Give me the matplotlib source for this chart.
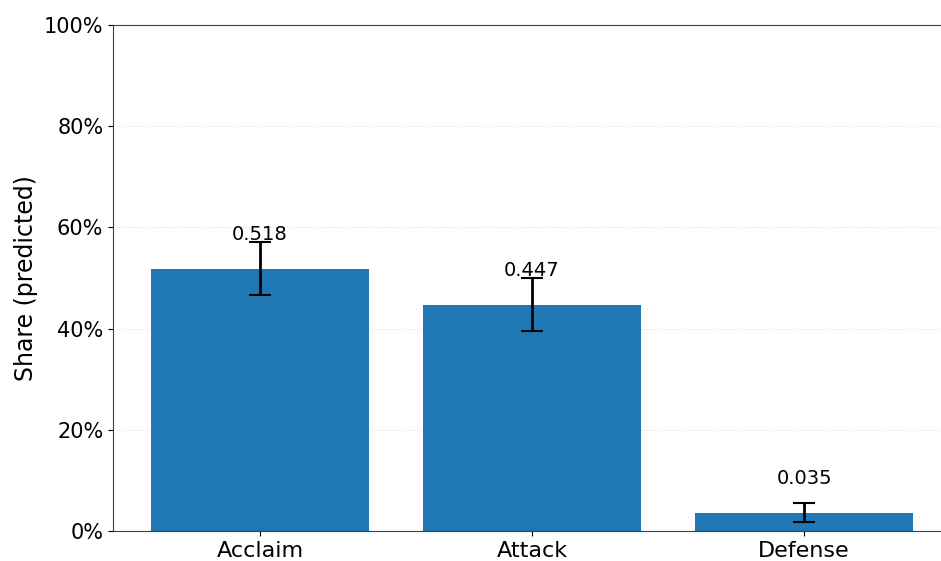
import numpy as np
import matplotlib.pyplot as plt
from matplotlib.ticker import PercentFormatter

categories = ["Acclaim", "Attack", "Defense"]
shares = [0.518, 0.447, 0.035]
ci_low = [0.466, 0.395, 0.018]
ci_high = [0.571, 0.500, 0.055]


def main():
    fig = plt.figure(figsize=(9.41, 5.61), dpi=100)
    ax = fig.add_axes([113 / 941, 30 / 561, 838 / 941, 506 / 561])

    x = np.arange(len(categories))
    y = np.asarray(shares)
    yerr = np.vstack([y - np.asarray(ci_low), np.asarray(ci_high) - y])

    ax.bar(x, y, width=0.8, color="#1f77b4", zorder=2)
    ax.errorbar(x, y, yerr=yerr, fmt="none", ecolor="black",
                elinewidth=2, capsize=8, capthick=1.5, zorder=3)
    for xi, v in zip(x, y):
        ax.text(xi, v + 0.05, f"{v:.3f}", ha="center", va="bottom",
                fontsize=14, zorder=4)

    ax.set_ylim(0, 1)
    ax.yaxis.set_major_formatter(PercentFormatter(1.0, decimals=0))
    ax.set_xticks(x)
    ax.set_xticklabels(categories)
    ax.tick_params(axis="y", labelsize=15)
    ax.tick_params(axis="x", labelsize=16)
    ax.set_ylabel("Share (predicted)", fontsize=17)
    ax.spines["right"].set_visible(False)
    for s in ("left", "top", "bottom"):
        ax.spines[s].set_color("0.25")
    ax.grid(axis="y", linestyle=":", linewidth=0.8, alpha=0.4, zorder=0)
    ax.set_axisbelow(True)

    fig.savefig("out.png", dpi=100)


if __name__ == '__main__':
    main()
